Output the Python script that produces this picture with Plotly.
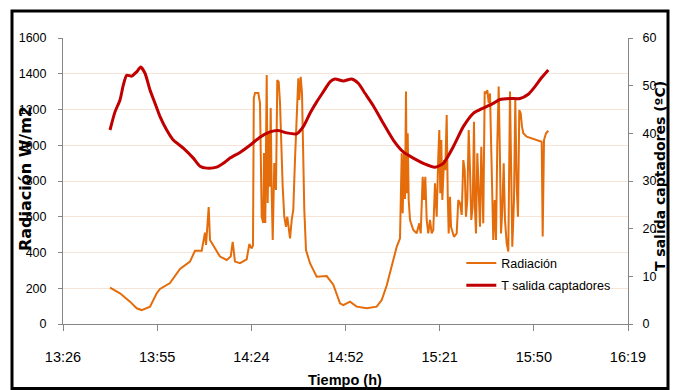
import plotly.graph_objects as go

# Time of each sample, minutes after 13:00
rad_min = [40.77, 43.83, 46.89, 48.94, 50.47, 53.01, 55.06, 56.07, 59.12, 62.18,
           65.24, 66.77, 68.82, 69.83, 70.14, 70.96, 71.36, 74.42, 76.47, 77.69,
           78.30, 79.00, 80.53, 82.58, 83.38, 84.11, 84.51, 84.75, 85.12, 86.13,
           86.65, 86.86, 87.17, 87.66, 87.87, 88.27, 88.70, 89.00, 89.31, 89.62,
           89.92, 90.23, 90.54, 91.02, 91.54, 91.94, 92.37, 92.77, 93.16, 93.59,
           94.08, 94.60, 95.00, 95.43, 95.83, 96.35, 96.83, 97.35, 97.87, 98.36,
           98.67, 99.10, 99.50, 99.89, 100.20, 100.72, 101.94, 103.99, 107.05, 109.07,
           111.12, 112.13, 114.18, 116.22, 119.28, 122.34, 123.87, 125.40, 126.93, 128.46,
           129.47, 129.68, 129.99, 130.29, 130.69, 131.00, 131.30, 131.52, 131.82, 132.13,
           132.53, 133.54, 134.58, 135.37, 135.80, 136.41, 136.81, 137.21, 137.63, 138.12,
           138.64, 139.16, 139.65, 140.17, 140.69, 141.18, 141.49, 141.79, 142.10, 142.41,
           142.93, 143.32, 143.75, 144.06, 144.36, 144.76, 145.07, 145.98, 146.81, 147.30,
           147.82, 148.34, 148.83, 149.26, 149.65, 150.05, 150.48, 150.88, 151.27, 151.70,
           152.10, 152.41, 152.71, 153.11, 153.54, 153.94, 154.33, 154.64, 154.94, 155.37,
           155.77, 156.17, 156.60, 156.99, 157.39, 157.70, 158.00, 158.43, 158.83, 159.23,
           159.65, 160.05, 160.36, 160.76, 161.18, 161.58, 162.10, 162.59, 162.90, 163.11,
           163.42, 163.81, 164.33, 164.73, 165.16, 165.56, 165.95, 166.38, 166.78, 167.18,
           168.22, 169.75, 171.28, 172.81, 173.11, 173.51, 174.12, 174.83]

# Solar radiation, W/m2
radiacion = [203, 172, 125, 88, 78, 97, 172, 196, 229, 308,
             349, 410, 410, 511, 442, 654, 470, 377, 358, 377,
             460, 349, 340, 362, 447, 423, 440, 1264, 1292, 1292,
             1236, 956, 600, 565, 956, 565, 1393, 677, 1068, 768,
             1208, 733, 470, 900, 750, 1365, 1355, 1236, 992, 768,
             600, 544, 600, 544, 479, 582, 638, 917, 1197, 1374,
             1253, 1383, 1290, 956, 638, 414, 340, 265, 268, 220,
             116, 106, 125, 97, 88, 97, 134, 215, 320, 432,
             479, 619, 955, 619, 955, 700, 1300, 731, 1067, 694,
             582, 526, 507, 563, 507, 824, 694, 824, 582, 507,
             582, 507, 526, 787, 600, 936, 1085, 731, 1029, 694,
             917, 861, 1169, 731, 507, 712, 544, 488, 507, 694,
             677, 610, 917, 861, 600, 694, 1085, 861, 582, 656,
             1132, 638, 507, 955, 694, 544, 992, 656, 563, 1300,
             1290, 1309, 1235, 1290, 1011, 638, 470, 694, 470, 1011,
             1328, 917, 507, 638, 899, 582, 451, 405, 917, 1300,
             917, 432, 694, 1253, 768, 600, 1197, 1179, 1104, 1067,
             1048, 1039, 1029, 1020, 490, 1029, 1067, 1081]

# Collector outlet temperature, minutes after 13:00 and degC
temp_min = [40.77, 42.30, 43.83, 44.84, 45.88, 47.41, 48.94, 50.16, 51.48, 53.01,
            54.54, 56.07, 58.12, 60.13, 63.19, 66.25, 68.30, 70.35, 73.41, 75.43,
            77.48, 80.53, 83.59, 86.65, 89.71, 92.25, 94.82, 97.87, 99.89, 101.94,
            103.99, 106.01, 108.06, 109.59, 112.13, 114.70, 116.71, 118.76, 121.30, 124.36,
            127.42, 130.48, 133.54, 136.59, 140.17, 142.71, 145.77, 148.83, 151.89, 154.94,
            158.00, 160.05, 163.11, 166.17, 168.71, 170.76, 172.81, 174.83]
t_salida = [40.7, 44.5, 47.0, 50.1, 52.2, 52.0, 52.9, 53.9, 52.6, 49.1,
            46.3, 43.5, 40.7, 38.6, 36.9, 34.8, 33.1, 32.7, 32.9, 33.7,
            34.8, 36.0, 37.5, 39.2, 40.3, 40.6, 40.1, 39.9, 41.4, 44.2,
            46.6, 48.7, 50.8, 51.4, 51.0, 51.4, 50.5, 48.4, 45.8, 42.1,
            38.6, 36.1, 34.8, 33.7, 32.9, 33.7, 37.2, 41.4, 44.2, 45.3,
            46.3, 47.1, 47.3, 47.3, 48.2, 49.8, 51.7, 53.3]

# Axis ticks as fractions of a day, with their clock labels
tick_days = [0.56, 0.58, 0.60, 0.62, 0.64, 0.66, 0.68]
tick_labels = ["13:26", "13:55", "14:24", "14:52", "15:21", "15:50", "16:19"]

assert len(rad_min) == len(radiacion)
assert len(temp_min) == len(t_salida)

BASE = 13 * 60  # minutes from midnight to 13:00
x_rad = [BASE + m for m in rad_min]
x_temp = [BASE + m for m in temp_min]
tickvals = [d * 1440 for d in tick_days]

SANS = "Liberation Sans, Arial, sans-serif"
ORANGE = "#E46C0A"
RED = "#C00000"
AXIS = "#868686"
GRID = "#F6E4D6"

fig = go.Figure()
fig.add_trace(go.Scatter(
    x=x_rad, y=radiacion, mode="lines", name="Radiación",
    line=dict(color=ORANGE, width=2), legendgroup="a"))
fig.add_trace(go.Scatter(
    x=x_temp, y=t_salida, mode="lines", name="T salida captadores",
    line=dict(color=RED, width=3, shape="spline", smoothing=0.6),
    yaxis="y2", legendgroup="b"))

fig.update_layout(
    width=674, height=390,
    margin=dict(l=63, r=46, t=38, b=66),
    paper_bgcolor="white", plot_bgcolor="white",
    showlegend=True,
    legend=dict(x=0.705, y=0.264, xanchor="left", yanchor="top",
                bgcolor="rgba(0,0,0,0)", tracegroupgap=3,
                font=dict(family=SANS, size=12.5, color="#000000")),
    xaxis=dict(range=[tickvals[0], tickvals[-1]], tickvals=tickvals, ticktext=tick_labels,
               showgrid=False, zeroline=False, showline=True, linecolor=AXIS, linewidth=1,
               ticks="outside", ticklen=6, tickcolor=AXIS, ticklabelstandoff=14,
               tickfont=dict(family=SANS, size=14.5, color="#000000")),
    yaxis=dict(range=[0, 1600], dtick=200, showgrid=True, gridcolor=GRID, gridwidth=1,
               zeroline=False, showline=True, linecolor=AXIS, linewidth=1,
               ticks="outside", ticklen=4, tickcolor=AXIS, ticklabelstandoff=9,
               tickfont=dict(family=SANS, size=12.5, color="#000000")),
    yaxis2=dict(range=[0, 60], dtick=10, overlaying="y", side="right", showgrid=False,
                zeroline=False, showline=True, linecolor=AXIS, linewidth=1,
                ticks="outside", ticklen=4, tickcolor=AXIS, ticklabelstandoff=7,
                tickfont=dict(family=SANS, size=12.5, color="#000000")),
    annotations=[
        dict(text="<b>Radiación W/m2</b>", xref="paper", yref="paper",
             x=-0.0673, y=0.51, xanchor="center", yanchor="middle", textangle=-90,
             showarrow=False, font=dict(family="DejaVu Sans", size=16, color="#000000")),
        dict(text="<b>T salida captadores (ºC)</b>", xref="paper", yref="paper",
             x=1.0566, y=0.517, xanchor="center", yanchor="middle", textangle=-90,
             showarrow=False, font=dict(family="DejaVu Sans", size=14, color="#000000")),
        dict(text="<b>Tiempo (h)</b>", xref="paper", yref="paper",
             x=0.499, y=-0.196, xanchor="center", yanchor="middle",
             showarrow=False, font=dict(family=SANS, size=14.5, color="#000000")),
    ],
    shapes=[
        dict(type="rect", xref="paper", yref="paper",
             x0=(12 - 63) / 565, x1=(668 - 63) / 565,
             y0=(324 - 388.5) / 286, y1=(324 - 11) / 286,
             line=dict(color="#000000", width=3), fillcolor="rgba(0,0,0,0)", layer="above"),
    ],
)

fig.write_html("out.html")
